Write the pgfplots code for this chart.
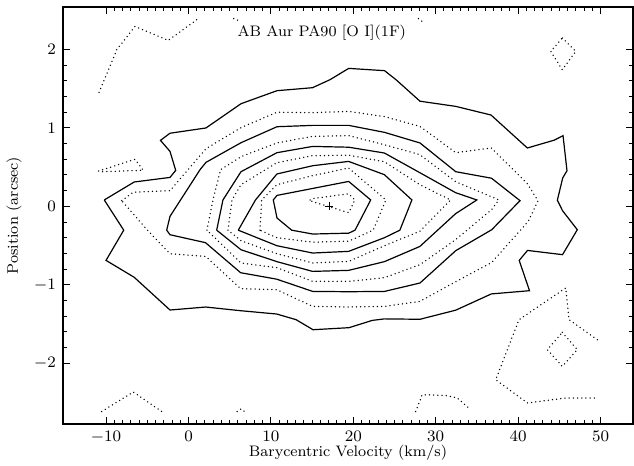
\documentclass[border=0pt]{standalone}
\usepackage{fontspec}
\usepackage{pgfplots}
\pgfplotsset{compat=1.18}
\tikzset{
  sol/.style={black, line width=0.6pt, line join=miter},
  dot/.style={black, line width=0.75pt, line cap=round, dash pattern=on 0pt off 2.1pt},
}
\newcommand{\lab}{\fontsize{7.6}{9}\selectfont\addfontfeatures{LetterSpace=5}}
\begin{document}
\begin{tikzpicture}
\begin{axis}[
  scale only axis, width=285pt, height=208.5pt,
  xmin=-15.23, xmax=53.94, ymin=-2.772, ymax=2.540,
  xtick={-10,0,10,20,30,40,50}, minor x tick num=9,
  ytick={-2,-1,0,1,2}, minor y tick num=4,
  tick align=inside, major tick length=3.6pt, minor tick length=1.9pt,
  xtick pos=both, ytick pos=both,
  axis line style={line width=0.7pt},
  every tick/.style={black, line width=0.5pt},
  tick label style={font=\fontsize{8.2}{9}\selectfont},
  xlabel={\lab Barycentric Velocity (km/s)},
  ylabel={\lab Position (arcsec)},
  xlabel style={at={(axis description cs:0.5,-0.0695)}, anchor=center},
  ylabel style={at={(axis description cs:-0.086,0.5)}, anchor=center},
  clip=true,
]
% outer solid
\addplot[sol] coordinates {(-10.22,0.082) (-6.58,0.311) (-2.245,0.369) (-1.553,0.459) (-2.245,0.701) (-3.40,0.841) (-2.245,0.932) (2.12,0.999) (6.37,1.308) (10.74,1.474) (15.05,1.512) (17.17,1.614) (19.44,1.758) (23.79,1.729) (25.18,1.614) (28.09,1.340) (32.43,1.274) (36.71,1.164) (41.12,0.744) (44.36,0.843) (45.45,0.901) (45.93,0.455) (45.41,0.362) (44.76,0.079) (45.39,-0.055) (47.18,-0.297) (45.39,-0.615) (41.14,-0.561) (40.13,-0.688) (41.38,-1.074) (36.75,-1.115) (32.43,-1.322) (28.09,-1.438) (23.79,-1.433) (22.31,-1.452) (19.48,-1.545) (15.11,-1.571) (13.05,-1.443) (10.70,-1.371) (6.33,-1.329) (2.09,-1.282) (-2.245,-1.320) (-6.58,-0.904) (-10.01,-0.688) (-7.86,-0.303) (-10.22,0.082)};
% dotted 2
\addplot[dot] coordinates {(-8.11,0.073) (-6.70,0.181) (-2.245,0.200) (2.12,0.735) (6.37,1.003) (10.74,1.200) (15.07,1.194) (19.44,1.210) (23.79,1.143) (28.09,1.019) (32.43,0.684) (36.75,0.744) (41.12,0.289) (42.41,0.073) (41.20,-0.195) (36.77,-0.717) (32.43,-0.959) (28.09,-1.210) (23.79,-1.274) (19.48,-1.282) (15.07,-1.274) (10.70,-1.061) (6.33,-1.048) (2.09,-0.637) (-2.245,-0.603) (-4.92,-0.310) (-8.11,0.073)};
% solid 3
\addplot[sol] coordinates {(-2.646,-0.303) (-2.245,-0.127) (1.396,0.467) (2.12,0.561) (6.37,0.811) (10.74,1.015) (15.07,1.032) (19.44,1.032) (23.79,0.943) (28.09,0.808) (32.43,0.442) (36.77,0.359) (40.23,0.073) (36.80,-0.297) (32.43,-0.564) (28.09,-0.976) (23.79,-1.083) (19.48,-1.087) (15.07,-1.083) (10.70,-0.927) (6.33,-0.845) (2.06,-0.462) (-2.245,-0.361) (-2.646,-0.303)};
% dotted 4
\addplot[dot] coordinates {(2.24,-0.303) (2.97,0.082) (3.9,0.467) (6.37,0.633) (10.73,0.808) (15.06,0.892) (19.43,0.901) (23.77,0.786) (28.08,0.659) (32.41,0.315) (37.66,0.082) (36.77,-0.042) (32.41,-0.424) (28.08,-0.743) (23.77,-0.908) (19.43,-0.955) (15.06,-0.955) (10.73,-0.781) (6.37,-0.721) (2.24,-0.303)};
% solid 5
\addplot[sol] coordinates {(3.42,-0.303) (4.18,0.082) (6.37,0.442) (10.73,0.684) (15.06,0.764) (19.43,0.754) (23.77,0.680) (28.08,0.429) (32.41,0.175) (34.99,0.082) (32.41,-0.093) (28.08,-0.510) (23.77,-0.704) (19.43,-0.815) (15.06,-0.828) (10.73,-0.704) (6.37,-0.552) (3.42,-0.303)};
% dotted 6
\addplot[dot] coordinates {(4.79,-0.303) (5.28,0.082) (6.37,0.276) (10.73,0.557) (15.06,0.646) (19.43,0.652) (23.77,0.569) (28.08,0.276) (31.80,0.082) (28.08,-0.316) (23.77,-0.501) (19.43,-0.701) (15.06,-0.721) (10.73,-0.603) (6.37,-0.437) (4.79,-0.303)};
% solid 7
\addplot[sol] coordinates {(6.04,-0.303) (8.13,0.082) (10.73,0.413) (15.06,0.518) (19.43,0.573) (23.77,0.404) (27.11,0.082) (25.65,-0.303) (23.77,-0.399) (19.43,-0.573) (15.06,-0.594) (10.73,-0.501) (6.04,-0.303)};
% dotted 8
\addplot[dot] coordinates {(8.67,-0.303) (8.88,0.082) (10.73,0.276) (15.06,0.391) (19.43,0.489) (23.95,0.082) (22.41,-0.303) (19.43,-0.443) (15.06,-0.456) (10.73,-0.399) (8.67,-0.303)};
% solid 9
\addplot[sol] coordinates {(10.74,0.140) (19.44,0.318) (22.11,0.082) (20.21,-0.303) (19.44,-0.341) (15.07,-0.352) (12.52,-0.303) (10.74,-0.148) (10.29,0.082) (10.74,0.140)};
% dotted 10
\addplot[dot] coordinates {(14.75,0.082) (15.07,0.10) (19.44,0.16) (20.2,0.082) (19.44,-0.08) (15.07,0.06) (14.75,0.082)};
% outer dotted pieces
\addplot[dot] coordinates {(-10.86,1.452) (-9.53,1.783) (-8.71,1.996) (-6.49,2.293) (-2.45,2.115) (1.0,2.378) (1.3,2.392)};
\addplot[dot] coordinates {(-10.9,0.45) (-6.5,0.60) (-5.5,0.46) (-10.9,0.44)};
\addplot[dot] coordinates {(-10.53,-2.613) (-6.70,-2.364) (-3.25,-2.613)};
\addplot[dot] coordinates {(5.9,-2.613) (6.37,-2.58) (6.8,-2.613)};
\addplot[dot] coordinates {(5.5,2.392) (5.9,2.37) (6.3,2.392)};
\addplot[dot] coordinates {(27.9,2.392) (28.3,2.36) (28.7,2.392)};
\addplot[dot] coordinates {(27.57,-2.613) (28.37,-2.399) (31.21,-2.408) (32.62,-2.441) (34.25,-2.590)};
\addplot[dot] coordinates {(49.61,-1.698) (46.18,-1.443) (45.78,-1.039) (40.11,-1.443) (37.28,-2.208) (41.12,-2.504) (45.78,-2.441) (49.61,-2.441)};
\addplot[dot] coordinates {(45.36,-1.605) (47.18,-1.825) (45.36,-2.038) (43.54,-1.825) (45.36,-1.605)};
\addplot[dot] coordinates {(45.36,2.145) (46.99,1.975) (45.36,1.741) (43.96,1.975) (45.36,2.145)};
% centre
\addplot[black, only marks, mark=+, mark size=2pt, mark options={line width=0.5pt}] coordinates {(17.05,0)};
\node[anchor=west, inner sep=0pt, font=\lab] at (axis cs:5.9,2.21) {AB Aur PA90 [O I](1F)};
\end{axis}
\pgfresetboundingbox
\path[use as bounding box] ([shift={(-31.5pt,-21pt)}]current axis.south west) rectangle ([shift={(0.5pt,3.5pt)}]current axis.north east);
\end{tikzpicture}
\end{document}
